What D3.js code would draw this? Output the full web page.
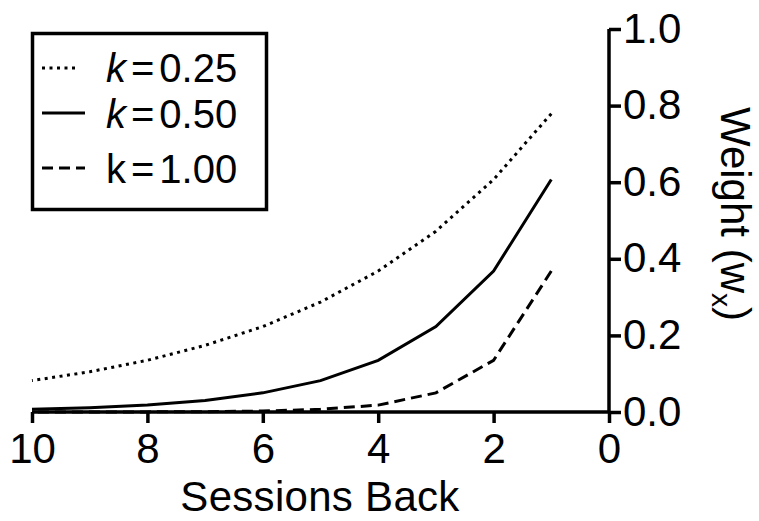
<!DOCTYPE html>
<html><head><meta charset="utf-8">
<script src="https://cdn.jsdelivr.net/npm/d3@7"></script>
<style>
html,body{margin:0;padding:0;background:#fff;}
text{font-family:"Liberation Sans",Arial,sans-serif;fill:#000;}
</style></head>
<body>
<svg id="chart" width="759" height="521"></svg>
<script>
const sessions = [1, 2, 3, 4, 5, 6, 7, 8, 9, 10];
const k025 = [0.779, 0.607, 0.472, 0.368, 0.287, 0.223, 0.174, 0.135, 0.105, 0.082];
const k050 = [0.607, 0.368, 0.223, 0.135, 0.082, 0.050, 0.030, 0.018, 0.011, 0.007];
const k100 = [0.368, 0.135, 0.050, 0.018, 0.007, 0.0025, 0.0009, 0.0003, 0.0001, 0.00005];
const xTicks = [10, 8, 6, 4, 2, 0];
const yTicks = [0.0, 0.2, 0.4, 0.6, 0.8, 1.0];
const seriesKeys = ["0.25", "0.50", "1.00"];

const svg = d3.select("#chart");
const x = d3.scaleLinear().domain([10, 0]).range([32, 609]);
const y = d3.scaleLinear().domain([0, 1]).range([412, 29]);
const FS = 42;

const styles = {
  "0.25": {dash: "3,4.5", vals: k025},
  "0.50": {dash: null, vals: k050},
  "1.00": {dash: "11,6", vals: k100}
};

// axes
const xAxis = d3.axisBottom(x).tickValues(xTicks).tickFormat(d3.format("d")).tickSize(11).tickPadding(10);
const gx = svg.append("g").attr("transform", "translate(0,412)").call(xAxis);
gx.select(".domain").attr("stroke-width", 3.5).attr("d", "M32,0H609");
gx.selectAll(".tick line").attr("stroke-width", 3.5);
gx.selectAll(".tick text").attr("font-size", FS).attr("dy", "0.71em");

const yAxis = d3.axisRight(y).tickValues(yTicks).tickFormat(d3.format(".1f")).tickSize(12).tickPadding(2);
const gy = svg.append("g").attr("transform", "translate(609,0)").call(yAxis);
gy.select(".domain").attr("stroke-width", 3.5).attr("d", "M0,29V412");
gy.selectAll(".tick line").attr("stroke-width", 3.5);
gy.selectAll(".tick text").attr("font-size", FS).attr("dy", "0.31em");
svg.selectAll(".domain, .tick line").attr("stroke", "#000");

// lines
const line = d3.line().x((d, i) => x(sessions[i])).y(d => y(d)).curve(d3.curveLinear);
seriesKeys.forEach(key => {
  const s = styles[key];
  const p = svg.append("path").datum(s.vals).attr("d", line)
    .attr("fill", "none").attr("stroke", "#000").attr("stroke-width", 3);
  if (s.dash) p.attr("stroke-dasharray", s.dash);
});

// axis titles
svg.append("text").attr("x", 320).attr("y", 511).attr("text-anchor", "middle")
  .attr("font-size", FS).attr("letter-spacing", 0.3).text("Sessions Back");
const yl = svg.append("text").attr("transform", "translate(721,214) rotate(90)")
  .attr("text-anchor", "middle").attr("font-size", FS);
yl.append("tspan").text("Weight (w");
yl.append("tspan").attr("font-size", 28).attr("dy", 9).text("x");
yl.append("tspan").attr("dy", -9).text(")");

// legend
svg.append("rect").attr("x", 32.5).attr("y", 33.5).attr("width", 234).attr("height", 176)
  .attr("fill", "#fff").attr("stroke", "#000").attr("stroke-width", 3.5);
const legY = [68, 113, 168];
const legBase = [82, 128, 183];
seriesKeys.forEach((key, i) => {
  const s = styles[key];
  const p = svg.append("line").attr("x1", 42).attr("x2", key === "0.25" ? 79 : 85)
    .attr("y1", legY[i]).attr("y2", legY[i])
    .attr("stroke", "#000").attr("stroke-width", 3);
  if (s.dash) p.attr("stroke-dasharray", s.dash);
  const t = svg.append("text").attr("x", 106).attr("y", legBase[i]).attr("font-size", FS - 2);
  t.append("tspan").attr("font-style", i < 2 ? "italic" : "normal").text("k");
  t.append("tspan").attr("dx", 5).text("=");
  t.append("tspan").attr("dx", 5).text(key);
});
</script>
</body></html>
